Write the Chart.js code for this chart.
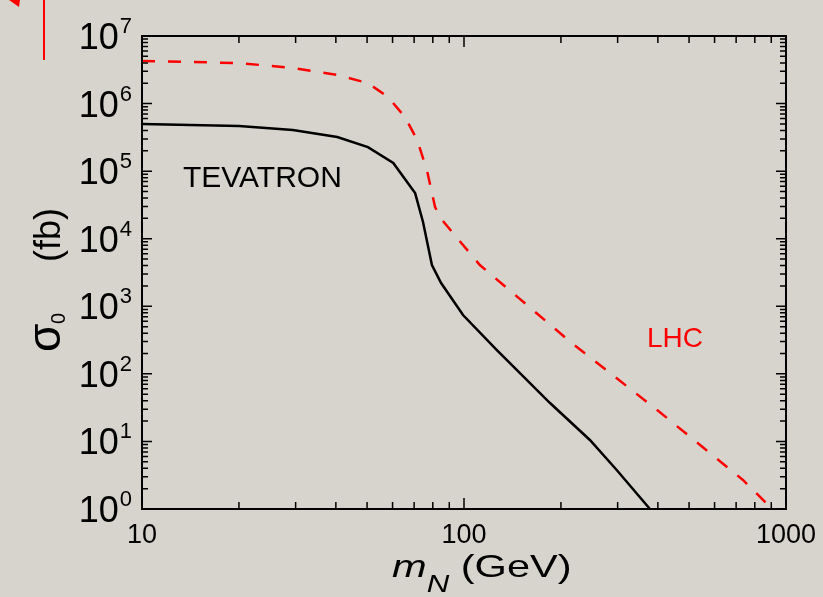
<!DOCTYPE html>
<html>
<head>
<meta charset="utf-8">
<script src="https://cdn.jsdelivr.net/npm/chart.js@4.4.0/dist/chart.umd.min.js"></script>
<style>
  html, body { margin: 0; padding: 0; background: #d6d4cd; }
  canvas { display: block; }
</style>
</head>
<body>
<canvas id="graph" width="823" height="597"></canvas>
<script>
// cross section sigma_0 (fb) against heavy neutrino mass m_N (GeV)
const tevatronMass = [10, 20, 29.4, 40.4, 50.3, 60.3, 70.5, 74.6, 79.5, 84.9, 99.3, 126.5, 150, 185, 246, 298, 378]
const tevatronSigma = [5.0e5, 4.66e5, 4.06e5, 3.2e5, 2.27e5, 1.32e5, 4.74e4, 1.77e4, 4.08e3, 2.21e3, 743, 225, 100, 37, 10.5, 3.78, 1.0]

const lhcMass = [10, 20, 29.4, 40.4, 50.3, 58.1, 65.6, 71.5, 76.7, 81.3, 85.5, 112, 216, 398, 735, 880]
const lhcSigma = [4.27e6, 3.98e6, 3.36e6, 2.65e6, 2.01e6, 1.25e6, 6.3e5, 2.9e5, 1.04e5, 2.94e4, 1.89e4, 4.08e3, 286, 29.2, 2.69, 1.15]

const massTicks = [10, 100, 1000]
const massTickLabels = ["10", "100", "1000"]
const sigmaExponents = [0, 1, 2, 3, 4, 5, 6, 7]

const font = "'Liberation Sans', Arial, Helvetica, sans-serif"

const toPoints = (xs, ys) => xs.map((x, i) => ({x: x, y: ys[i]}))

// frame, inward ticks and labels are painted by hand
const framePlugin = {
    id: "frame",
    beforeDraw(chart) {
        const ctx = chart.ctx
        ctx.save()
        ctx.fillStyle = "#d6d4cd"
        ctx.fillRect(0, 0, chart.width, chart.height)
        ctx.restore()
    },
    afterDraw(chart) {
        const ctx = chart.ctx
        const a = chart.chartArea
        const xs = chart.scales.x
        const ys = chart.scales.y

        ctx.save()
        ctx.strokeStyle = "#000"
        ctx.lineWidth = 1.5
        ctx.beginPath()
        // y ticks, left and right
        for (let e = 0; e < 7; e++) {
            for (let s = 1; s < 10; s++) {
                const py = ys.getPixelForValue(s * Math.pow(10, e))
                const len = s === 1 ? 10 : 6
                ctx.moveTo(a.left, py); ctx.lineTo(a.left + len, py)
                ctx.moveTo(a.right, py); ctx.lineTo(a.right - len, py)
            }
        }
        // x ticks, bottom and top
        for (let e = 1; e < 3; e++) {
            for (let s = 1; s < 10; s++) {
                const px = xs.getPixelForValue(s * Math.pow(10, e))
                const len = s === 1 ? 11 : 7
                ctx.moveTo(px, a.bottom); ctx.lineTo(px, a.bottom - len)
                ctx.moveTo(px, a.top); ctx.lineTo(px, a.top + len)
            }
        }
        ctx.stroke()

        ctx.lineWidth = 2
        ctx.strokeRect(a.left, a.top, a.right - a.left, a.bottom - a.top)

        // y tick labels 10^n
        ctx.fillStyle = "#000"
        ctx.textBaseline = "alphabetic"
        sigmaExponents.forEach(n => {
            const py = ys.getPixelForValue(Math.pow(10, n))
            const right = a.left - 10
            ctx.font = "22px " + font
            const supW = ctx.measureText(String(n)).width
            ctx.textAlign = "left"
            ctx.fillText(String(n), right - supW, py - 3)
            ctx.font = "36px " + font
            ctx.textAlign = "right"
            ctx.fillText("10", right - supW - 1, py + 13)
        })

        // x tick labels
        ctx.font = "27px " + font
        ctx.textAlign = "center"
        massTicks.forEach((v, i) => {
            ctx.fillText(massTickLabels[i], xs.getPixelForValue(v), a.bottom + 34)
        })

        // curve labels
        ctx.textAlign = "left"
        ctx.font = "30px " + font
        ctx.fillStyle = "#000"
        ctx.fillText("TEVATRON", xs.getPixelForValue(13.4), ys.getPixelForValue(5.8e4))
        ctx.font = "28px " + font
        ctx.fillStyle = "#ff0000"
        ctx.fillText("LHC", xs.getPixelForValue(370), ys.getPixelForValue(250))

        // x axis title: m_N (GeV)
        ctx.fillStyle = "#000"
        ctx.save()
        ctx.translate(392, 577)
        ctx.scale(1.3, 1)
        ctx.font = "italic 32px " + font
        ctx.fillText("m", 0, 0)
        let w = ctx.measureText("m").width
        ctx.font = "italic 24px " + font
        ctx.fillText("N", w, 15)
        w += ctx.measureText("N").width
        ctx.font = "32px " + font
        ctx.fillText(" (GeV)", w, 0)
        ctx.restore()

        // y axis title: sigma_0 (fb)
        ctx.save()
        ctx.translate(60, 0)
        ctx.rotate(-Math.PI / 2)
        ctx.font = "46px " + font
        ctx.fillText("σ", -352, 0)
        ctx.font = "20px " + font
        ctx.fillText("0", -324, 5)
        ctx.font = "36px " + font
        ctx.fillText("(fb)", -262, 0)
        ctx.restore()

        // red pointer in the top left corner
        ctx.fillStyle = "#ff0000"
        ctx.fillRect(43, 0, 2, 60)
        ctx.beginPath()
        ctx.moveTo(9, 0); ctx.lineTo(20, 0); ctx.lineTo(19, 7)
        ctx.closePath()
        ctx.fill()

        ctx.restore()
    }
}

new Chart(document.getElementById("graph"), {
    "type": "line",
    "data": {
        "datasets": [
            {
                "label": "TEVATRON",
                "data": toPoints(tevatronMass, tevatronSigma),
                "borderColor": "#000000",
                "borderWidth": 2.5,
                "pointRadius": 0,
                "fill": false,
                "tension": 0
            },
            {
                "label": "LHC",
                "data": toPoints(lhcMass, lhcSigma),
                "borderColor": "#ff0000",
                "borderWidth": 2.5,
                "borderDash": [13, 13],
                "pointRadius": 0,
                "fill": false,
                "tension": 0
            }
        ]
    },
    "options": {
        "responsive": false,
        "animation": false,
        "devicePixelRatio": 1,
        "layout": { "padding": { "top": 36, "right": 37, "left": 0, "bottom": 0 } },
        "plugins": { "legend": { "display": false }, "tooltip": { "enabled": false } },
        "scales": {
            "x": {
                "type": "logarithmic", "min": 10, "max": 1000,
                "ticks": { "display": false }, "grid": { "display": false }, "border": { "display": false },
                afterFit(s) { s.height = 88 }
            },
            "y": {
                "type": "logarithmic", "min": 1, "max": 1e7,
                "ticks": { "display": false }, "grid": { "display": false }, "border": { "display": false },
                afterFit(s) { s.width = 142 }
            }
        }
    },
    "plugins": [framePlugin]
})
</script>
</body>
</html>
